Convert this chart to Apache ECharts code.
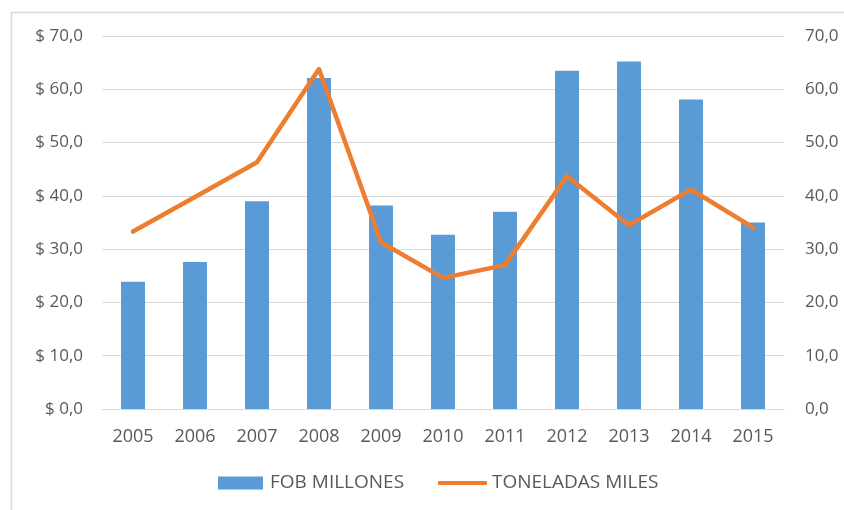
<!DOCTYPE html>
<html>
<head>
<meta charset="utf-8">
<script src="https://cdn.jsdelivr.net/npm/echarts@6/dist/echarts.min.js"></script>
<style>
html,body{margin:0;padding:0;background:#fff;}
#c{width:844px;height:510px;}
</style>
</head>
<body>
<div id="c"></div>
<script>
const categories = ['2005','2006','2007','2008','2009','2010','2011','2012','2013','2014','2015'];
const fobMillones = [23.9, 27.6, 39.0, 62.1, 38.2, 32.7, 37.0, 63.5, 65.2, 58.1, 35.0];
const toneladasMiles = [33.3, 39.8, 46.3, 63.8, 31.3, 24.6, 27.0, 43.7, 34.5, 41.2, 34.1];
const seriesNames = ['FOB MILLONES', 'TONELADAS MILES'];

const fmt = v => v.toFixed(1).replace('.', ',');
const font = '"Open Sans", "Noto Sans", sans-serif';
const txt = '#595959';

const chart = echarts.init(document.getElementById('c'), null, {renderer: 'canvas'});
chart.setOption({
  animation: false,
  backgroundColor: '#fff',
  graphic: [{
    type: 'rect', left: 9, top: 10,
    shape: {width: 900, height: 600},
    style: {fill: 'none', stroke: '#d9d9d9', lineWidth: 1.5},
    silent: true, z: -1
  }],
  grid: {left: 102, right: 60, top: 36, bottom: 101, containLabel: false},
  legend: [{
    top: 473, left: 218, padding: 0,
    itemWidth: 45, itemHeight: 13,
    textStyle: {color: txt, fontSize: 19, lineHeight: 20, fontFamily: font, padding: [0, 0, 0, 2]},
    data: [{name: seriesNames[0], icon: 'rect'}]
  }, {
    top: 473, left: 438, padding: 0,
    itemWidth: 49, itemHeight: 4,
    textStyle: {color: txt, fontSize: 19, lineHeight: 20, fontFamily: font, padding: [0, 0, 0, 0]},
    data: [{name: seriesNames[1], icon: 'roundRect'}]
  }],
  xAxis: {
    type: 'category', data: categories,
    axisLine: {lineStyle: {color: '#d9d9d9', width: 1}},
    axisTick: {show: false},
    axisLabel: {color: txt, fontSize: 18, fontFamily: font, margin: 19}
  },
  yAxis: [{
    type: 'value', min: 0, max: 70, interval: 10,
    axisLine: {show: false}, axisTick: {show: false},
    splitLine: {lineStyle: {color: '#d9d9d9', width: 1}},
    axisLabel: {color: txt, fontSize: 17, fontFamily: font, margin: 19, formatter: v => '$ ' + fmt(v)}
  }, {
    type: 'value', min: 0, max: 70, interval: 10,
    axisLine: {show: false}, axisTick: {show: false},
    splitLine: {show: false},
    axisLabel: {color: txt, fontSize: 17, fontFamily: font, margin: 21, formatter: v => fmt(v)}
  }],
  series: [{
    name: seriesNames[0], type: 'bar', data: fobMillones,
    barWidth: 24,
    itemStyle: {color: '#5b9bd5'}
  }, {
    name: seriesNames[1], type: 'line', data: toneladasMiles,
    yAxisIndex: 1,
    symbol: 'none',
    lineStyle: {color: '#ed7d31', width: 4.5, cap: 'round', join: 'round'},
    itemStyle: {color: '#ed7d31'}
  }]
});
</script>
</body>
</html>
